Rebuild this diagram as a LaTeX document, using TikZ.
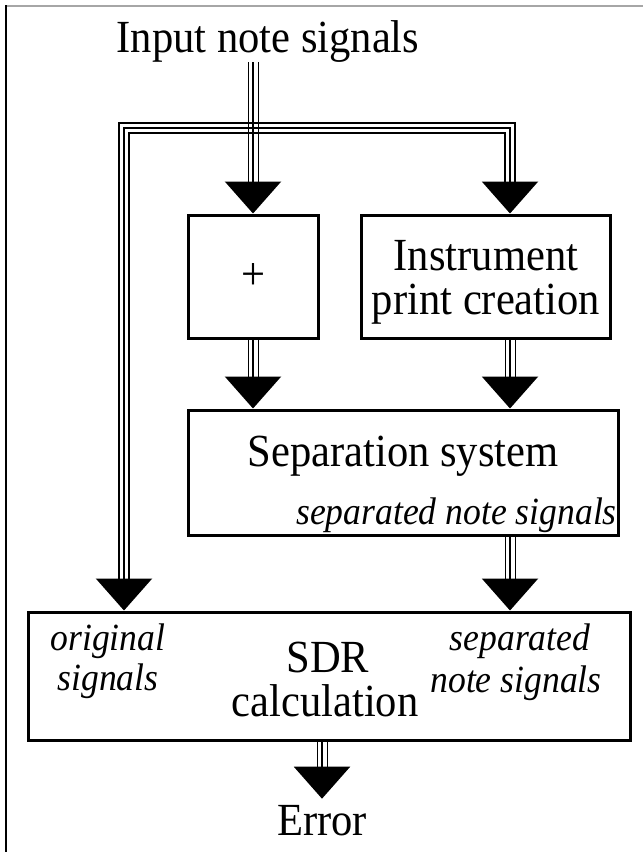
\documentclass[tikz,border=0pt]{standalone}
\usepackage{fontspec}
\setmainfont{Liberation Serif}
\usetikzlibrary{arrows.meta}
\begin{document}
\begin{tikzpicture}[x=1pt,y=-1pt,
  box/.style={draw,line width=3pt,inner sep=0pt},
  big/.style={font=\fontsize{46}{48}\selectfont, inner sep=0pt, xscale=0.925, transform shape},
  ital/.style={font=\fontsize{38.5}{42}\selectfont\itshape, inner sep=0pt, xscale=0.925, transform shape},
  tip/.style={-{Triangle[length=32pt,width=56pt]}},
  tri/.style={line width=2.4pt, tip,
     preaction={draw,-,transform canvas={xshift=-5.2pt},shorten >=22pt},
     preaction={draw,-,transform canvas={xshift=5.2pt},shorten >=22pt}},
  bus/.style={line width=2.4pt, line join=miter,
     {Triangle[length=32pt,width=56pt]}-{Triangle[length=32pt,width=56pt]},
     preaction={draw,-,line width=12.8pt,shorten <=22pt,shorten >=22pt},
     preaction={draw=white,-,line width=8pt,shorten <=22pt,shorten >=22pt}}
]
\useasboundingbox (0,0) rectangle (643,852);

% frame edges
\draw[gray!70, line width=2pt] (6,5.5) -- (643,5.5);
\draw[black, line width=2pt] (6,5) -- (6,852);

% boxes
\node[box, minimum width=130pt, minimum height=123pt] (plus) at (253,276.5) {};
\node[box, minimum width=249pt, minimum height=123pt] (inst) at (485.5,276.5) {};
\node[box, minimum width=430pt, minimum height=125pt] (sep) at (403,472.5) {};
\node[box, minimum width=602pt, minimum height=128pt] (sdr) at (329,676) {};

% texts
\node[big, anchor=base] (input) at (268,52) {Input note signals};
\node[big] (plusl) at (253,277) {+};
\node[big, anchor=base] (inst1) at (486,270) {Instrument};
\node[big, anchor=base] (inst2) at (486,314) {print creation};
\node[big, anchor=base] (sep1) at (403,466) {Separation system};
\node[ital, anchor=base east] (sep2) at (617,524) {separated note signals};
\node[big, anchor=base] (sdr1) at (328,672) {SDR};
\node[big, anchor=base] (sdr2) at (325,716) {calculation};
\node[ital, anchor=base] (orig1) at (108,650) {original};
\node[ital, anchor=base] (orig2) at (108,690) {signals};
\node[ital, anchor=base] (sn1) at (520,650) {separated};
\node[ital, anchor=base] (sn2) at (516,692) {note signals};
\node[big, anchor=base] (err) at (322,835) {Error};

% signal bus feeding the SDR block and the instrument print block
\coordinate (busL) at (124,128);
\coordinate (busR) at (510,128);
\draw[bus] (sdr.north -| busL) -- (busL) -- (busR) -- (inst.north -| busR);

% connectors
\draw[tri] (plus.north |- input.south) -- (plus.north);
\draw[tri] (plus.south) -- (sep.north -| plus.south);
\draw[tri] (inst.south -| busR) -- (sep.north -| busR);
\draw[tri] (sep.south -| busR) -- (sdr.north -| busR);
\draw[tri, shorten >=6pt] (sdr.south -| err.north) -- (err.north);
\end{tikzpicture}
\end{document}
